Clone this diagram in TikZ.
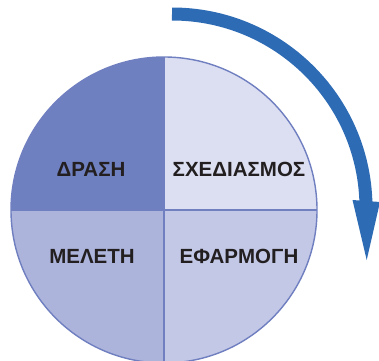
\documentclass[tikz,border=0pt]{standalone}
\usepackage{fontspec}
\setmainfont{Liberation Sans}
\definecolor{qdark}{HTML}{6F80C0}
\definecolor{qlight}{HTML}{DCDFF2}
\definecolor{qmidA}{HTML}{ACB4DC}
\definecolor{qmidB}{HTML}{C3C8E6}
\definecolor{edge}{HTML}{6F7FC0}
\definecolor{arrowblue}{HTML}{2E6BB5}
\definecolor{txt}{HTML}{231F20}
\begin{document}
\begin{tikzpicture}[x=1pt,y=1pt,
  lbl/.style={font=\bfseries\fontsize{20.5}{24}\selectfont, text=txt, inner sep=0pt},
  rim/.style={draw=edge, line width=1.4pt}]
\useasboundingbox (0,0) rectangle (379,360);
\clip (0,0) rectangle (379,360);
\coordinate (c) at (164,150);
% quadrants
\fill[qdark]  (c) -- ++(-153,0) arc[start angle=180,end angle=90,radius=153] -- cycle;
\fill[qlight] (c) -- ++(0,153) arc[start angle=90,end angle=0,radius=153] -- cycle;
\fill[qmidB]  (c) -- ++(153,0) arc[start angle=0,end angle=-90,radius=153] -- cycle;
\fill[qmidA]  (c) -- ++(0,-153) arc[start angle=-90,end angle=-180,radius=153] -- cycle;
\draw[rim] (c) circle[radius=153];
\draw[rim] (164,303) -- (164,-3);
\draw[rim] (11,150) -- (317,150);
% labels
\node[lbl] (drasi) at (91,191) {ΔΡΑΣΗ};
\node[lbl] (sxed) at (239,191) {ΣΧΕΔΙΑΣΜΟΣ};
\node[lbl] (melet) at (92,104) {ΜΕΛΕΤΗ};
\node[lbl] (efarm) at (239,104) {ΕΦΑΡΜΟΓΗ};
% cycle arrow
\draw[arrowblue, line width=13pt] (172,346) arc[start angle=90,end angle=1.5,radius=194];
\fill[arrowblue] (352.5,160) -- (380,158) -- (366.7,100) -- cycle;
\end{tikzpicture}
\end{document}
